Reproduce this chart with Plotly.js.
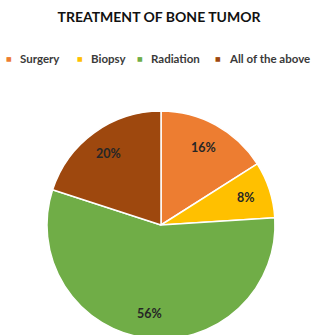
<!DOCTYPE html>
<html><head><meta charset="utf-8">
<script src="https://cdn.plot.ly/plotly-3.0.1.min.js"></script>
<style>html,body{margin:0;padding:0;overflow:hidden;background:#fff}#chart{width:318px;height:345px}</style>
</head><body><div id="chart"></div>
<script>
const categories = ["Surgery", "Biopsy", "Radiation", "All of the above"];
const values = [16, 8, 56, 20];
const colors = ["#ED7D31", "#FFC000", "#70AD47", "#9E480E"];
const H = 345, W = 318;
const cx = 161, cy = 225, r = 114;
const labelRadius = 0.78;
const legendTextX = [18, 89, 149, 227];
const legendY = 58;

const total = values.reduce((a, b) => a + b, 0);
const annotations = [];
let cum = 0;
values.forEach((v, i) => {
  const mid = (cum + v / 2) / total;
  cum += v;
  const th = 2 * Math.PI * mid;
  const px = cx + labelRadius * r * Math.sin(th);
  const py = cy - labelRadius * r * Math.cos(th);
  annotations.push({
    text: "<b>" + Math.round(v / total * 100) + "%</b>",
    x: px / W, y: 1 - py / H, xref: "paper", yref: "paper",
    xanchor: "center", yanchor: "middle", showarrow: false,
    font: {family: "Lato, sans-serif", size: 12.5, color: "#262626"}
  });
});
categories.forEach((c, i) => {
  annotations.push({
    text: "■", x: (legendTextX[i] - 4) / W, y: 1 - legendY / H, xref: "paper", yref: "paper",
    xanchor: "right", yanchor: "middle", showarrow: false,
    font: {family: "DejaVu Sans, sans-serif", size: 6, color: colors[i]}
  });
  annotations.push({
    text: "<b>" + c + "</b>", x: legendTextX[i] / W, y: 1 - legendY / H, xref: "paper", yref: "paper",
    xanchor: "left", yanchor: "middle", showarrow: false,
    font: {family: "Lato, sans-serif", size: 11.5, color: "#3a3a3a"}
  });
});

Plotly.newPlot("chart", [{
  type: "pie",
  labels: categories,
  values: values,
  sort: false,
  direction: "clockwise",
  rotation: 0,
  marker: {colors: colors, line: {color: "#ffffff", width: 1.5}},
  textinfo: "none",
  domain: {x: [(cx - r) / W, (cx + r) / W], y: [1 - (cy + r) / H, 1 - (cy - r) / H]},
  hoverinfo: "label+percent"
}], {
  width: W, height: H,
  margin: {l: 0, r: 0, t: 0, b: 0},
  paper_bgcolor: "#fff",
  title: {text: "<b>TREATMENT OF BONE TUMOR</b>", x: 0.5, xanchor: "center", y: 1 - 17 / H, yanchor: "middle",
          font: {family: "Lato, sans-serif", size: 14, color: "#111111"}},
  showlegend: false,
  annotations: annotations
}, {displayModeBar: false, staticPlot: true});
</script></body></html>
